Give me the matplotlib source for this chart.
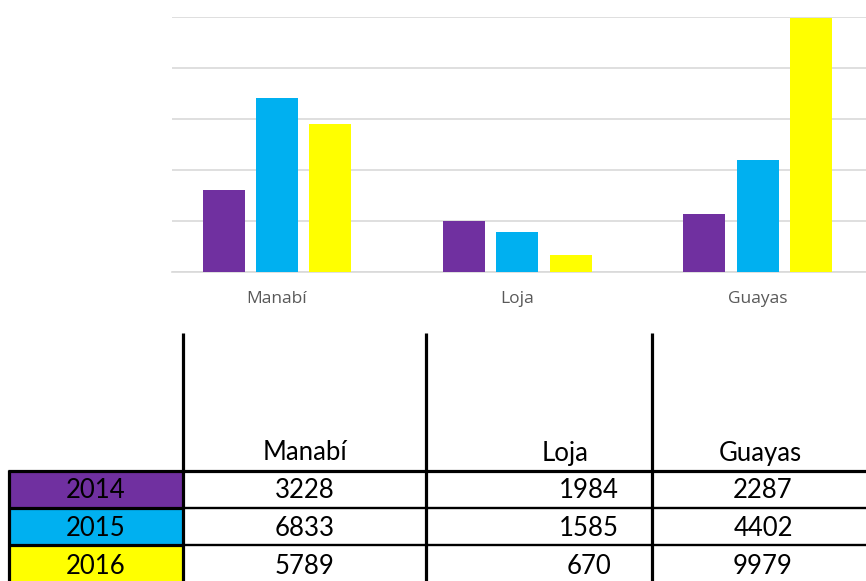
import matplotlib
matplotlib.use("Agg")
import matplotlib.pyplot as plt
import numpy as np

categories = ["Manabí", "Loja", "Guayas"]
years = ["2014", "2015", "2016"]
values_2014 = [3228, 1984, 2287]
values_2015 = [6833, 1585, 4402]
values_2016 = [5789, 670, 9979]
series = [values_2014, values_2015, values_2016]
colors = ["#7030A0", "#00B0F0", "#FFFF00"]

W, H = 866, 581
fig = plt.figure(figsize=(W / 100, H / 100), dpi=100)

# ---- chart ----
ax = fig.add_axes([172 / W, (H - 272) / H, 1 - 172 / W, (272 - 17) / H])
x = np.arange(len(categories))
bw = 0.175
step = 0.222
for i, vals in enumerate(series):
    ax.bar(x + (i - 1) * step, vals, width=bw, color=colors[i], zorder=3)
ax.set_ylim(0, 10000)
ax.set_xlim(-0.437, 2.45)
ax.set_yticks(np.arange(0, 10001, 2000))
ax.yaxis.grid(True, color="#d9d9d9", linewidth=1.2, zorder=0)
ax.set_yticklabels([])
ax.tick_params(axis="y", length=0)
ax.tick_params(axis="x", length=0, pad=14)
ax.set_xticks(x)
ax.set_xticklabels(categories, fontsize=12.5, color="#595959", family="Open Sans")
for s in ["top", "right", "left"]:
    ax.spines[s].set_visible(False)
ax.spines["bottom"].set_color("#d9d9d9")
ax.spines["bottom"].set_linewidth(1.2)

# ---- table overlay in pixel coordinates ----
ov = fig.add_axes([0, 0, 1, 1], zorder=5)
ov.set_xlim(0, W)
ov.set_ylim(H, 0)
ov.axis("off")
ov.patch.set_alpha(0)

row_top = [471, 508, 545]
row_bot = [508, 545, 582]
for i, c in enumerate(colors):
    ov.add_patch(plt.Rectangle((9, row_top[i]), 183 - 9, row_bot[i] - row_top[i],
                               facecolor=c, edgecolor="none"))

thick = 2.3
thin = 1.7
for xv in [183, 426, 652]:
    ov.plot([xv, xv], [333, H + 2], color="black", lw=thick, solid_capstyle="butt")
ov.plot([9, 9], [470, H + 2], color="black", lw=thick, solid_capstyle="butt")
ov.plot([8, W], [471, 471], color="black", lw=thick, solid_capstyle="butt")
for yv in [508, 545]:
    ov.plot([8, 183], [yv, yv], color="black", lw=thick, solid_capstyle="butt")
    ov.plot([183, W], [yv, yv], color="black", lw=thin, solid_capstyle="butt")

fs = 18.5
fam = "Lato"
header_x = [305, 565, 760]
for cx, name in zip(header_x, categories):
    ov.text(cx, 453, name, ha="center", va="center", fontsize=fs, family=fam, color="black")

value_x = [305, 589, 763]
row_y = [491, 528, 566]
for i, yr in enumerate(years):
    ov.text(96, row_y[i], yr, ha="center", va="center", fontsize=fs, family=fam, color="black")
    vals = series[i]
    for j in range(3):
        ov.text(value_x[j], row_y[i], str(vals[j]), ha="center", va="center",
                fontsize=fs, family=fam, color="black")

fig.savefig("out.png", dpi=100)
